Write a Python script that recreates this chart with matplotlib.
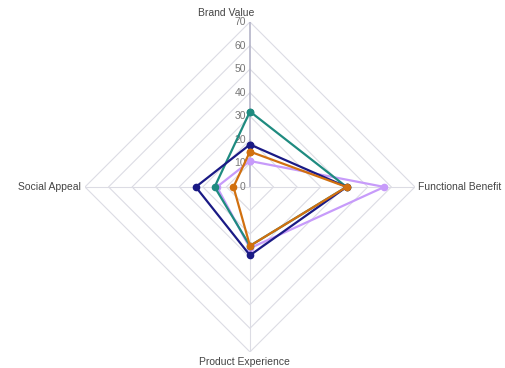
import numpy as np
import matplotlib
matplotlib.use('Agg')
import matplotlib.pyplot as plt

# axes (clockwise from top) and values
categories = ['Brand Value', 'Functional Benefit', 'Product Experience', 'Social Appeal']
purple_vals = [11, 57, 26, 14]
teal_vals = [32, 41, 25, 15]
navy_vals = [18, 41, 29, 23]
orange_vals = [15, 41, 25, 7]
ticks = [0, 10, 20, 30, 40, 50, 60, 70]

series = [(purple_vals, '#c79bfa'), (teal_vals, '#1f8b80'),
          (navy_vals, '#1a1a85'), (orange_vals, '#d1700f')]

plt.rcParams['font.family'] = ['Liberation Sans', 'DejaVu Sans']

fig = plt.figure(figsize=(5.06, 3.68), dpi=100)
ax = fig.add_axes([0.168, 0.0435, 0.652, 0.897], projection='polar')
ax.set_theta_offset(np.pi / 2)
ax.set_theta_direction(-1)
ax.set_ylim(0, 70)
ax.grid(False)
ax.spines['polar'].set_visible(False)
ax.set_xticks([])
ax.set_yticks([])
ax.patch.set_alpha(0)

angles = np.linspace(0, 2 * np.pi, len(categories), endpoint=False)
closed = np.append(angles, angles[0])

# diamond grid
for t in ticks[1:]:
    ax.plot(closed, [t] * len(closed), color='#dcdce4', lw=0.8, zorder=1)
for i, a in enumerate(angles):
    if i == 0:
        ax.plot([a, a], [0, 70], color='#b4b4c8', lw=1.2, zorder=1)
    else:
        ax.plot([a, a], [0, 70], color='#dcdce4', lw=0.8, zorder=1)

# tick labels along top spoke
for t in ticks:
    ax.annotate(str(t), xy=(0, t), xytext=(-3, 0), textcoords='offset points',
                ha='right', va='center', fontsize=7.5, color='#777777', zorder=2)

# category labels
offsets = [(-17, 3, 'center', 'bottom'), (2, 0, 'left', 'center'),
           (-4.3, -4, 'center', 'top'), (-3, 0, 'right', 'center')]
for a, name, (dx, dy, ha, va) in zip(angles, categories, offsets):
    ax.annotate(name, xy=(a, 70), xytext=(dx, dy), textcoords='offset points',
                ha=ha, va=va, fontsize=7.5, color='#444444', annotation_clip=False)

for vals, col in series:
    v = vals + vals[:1]
    ax.plot(closed, v, color=col, lw=1.6, marker='o', markersize=4.5, zorder=3)

fig.savefig('out.png', dpi=100)
